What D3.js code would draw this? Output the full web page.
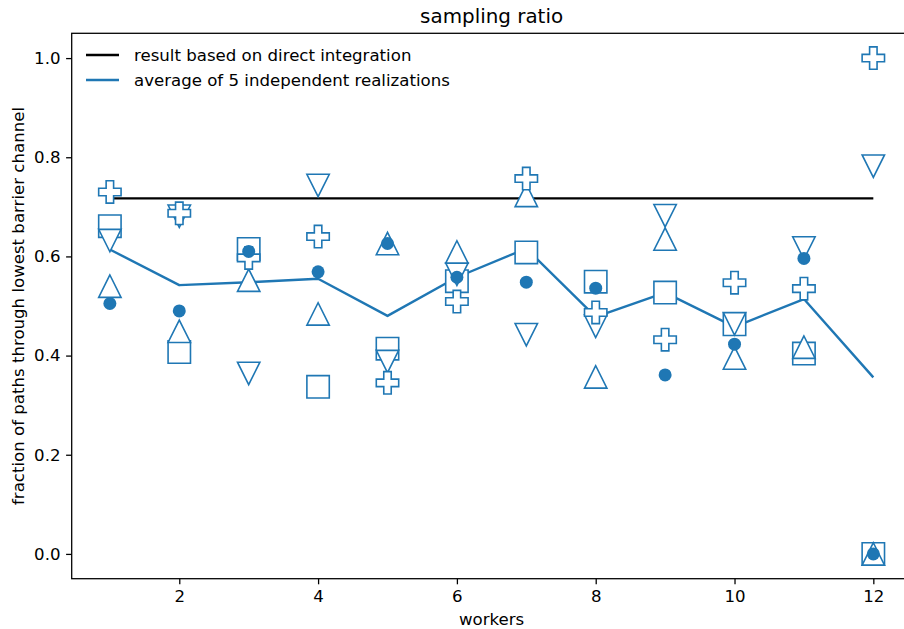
<!DOCTYPE html>
<html>
<head>
<meta charset="utf-8">
<script src="https://cdn.jsdelivr.net/npm/d3@7"></script>
<style>
  body { margin: 0; background: #fff; }
  svg { display: block; font-family: "DejaVu Sans", sans-serif; }
</style>
</head>
<body>
<svg id="svg" width="904" height="629"></svg>
<script>
// worker counts
var workers = [1, 2, 3, 4, 5, 6, 7, 8, 9, 10, 11, 12];

// five independent realizations (one marker style each)
var realSquare  = [0.661, 0.407, 0.615, 0.337, 0.414, 0.550, 0.608, 0.549, 0.527, 0.463, 0.404, 0.0];
var realTriDown = [0.632, 0.681, 0.364, 0.743, 0.388, 0.564, 0.442, 0.459, 0.682, 0.464, 0.617, 0.782];
var realTriUp   = [0.540, 0.449, 0.552, 0.484, 0.626, 0.609, 0.723, 0.357, 0.635, 0.395, 0.417, 0.0];
var realPlus    = [0.730, 0.687, 0.597, 0.640, 0.345, 0.509, 0.757, 0.487, 0.432, 0.547, 0.535, 1.0];
var realCircle  = [0.505, 0.490, 0.610, 0.569, 0.626, 0.558, 0.548, 0.536, 0.361, 0.423, 0.596, 0.0];

// average of the 5 realizations
var average = [0.614, 0.542, 0.548, 0.555, 0.480, 0.558, 0.616, 0.478, 0.527, 0.458, 0.514, 0.356];

// direct integration result
var directValue = 0.717;

var xTicks = [2, 4, 6, 8, 10, 12];
var yTicks = [0.0, 0.2, 0.4, 0.6, 0.8, 1.0];

var legendLabels = ["result based on direct integration", "average of 5 independent realizations"];

var blue = "#1f77b4";

// matplotlib style marker shapes (size = marker width in px)
var mplTriUp = { draw: function(ctx, s) { var h = s / 2; ctx.moveTo(0, -h); ctx.lineTo(-h, h); ctx.lineTo(h, h); ctx.closePath(); } };
var mplTriDown = { draw: function(ctx, s) { var h = s / 2; ctx.moveTo(0, h); ctx.lineTo(-h, -h); ctx.lineTo(h, -h); ctx.closePath(); } };
var mplSquare = { draw: function(ctx, s) { var h = s / 2; ctx.rect(-h, -h, s, s); } };
var mplPlus = { draw: function(ctx, s) {
  var a = s / 6, b = s / 2;
  ctx.moveTo(-a, -b); ctx.lineTo(a, -b); ctx.lineTo(a, -a); ctx.lineTo(b, -a); ctx.lineTo(b, a);
  ctx.lineTo(a, a); ctx.lineTo(a, b); ctx.lineTo(-a, b); ctx.lineTo(-a, a); ctx.lineTo(-b, a);
  ctx.lineTo(-b, -a); ctx.lineTo(-a, -a); ctx.closePath();
} };

var series = [
  { values: realSquare, type: mplSquare, size: 22.4, filled: false },
  { values: realTriDown, type: mplTriDown, size: 22.4, filled: false },
  { values: realTriUp, type: mplTriUp, size: 22.4, filled: false },
  { values: realPlus, type: mplPlus, size: 22.4, filled: false },
  { values: realCircle, type: d3.symbolCircle, size: Math.PI * 6.5 * 6.5, filled: true }
];

var svg = d3.select("#svg");
var mLeft = 71.7, mRight = 911.5, mTop = 33.3, mBottom = 578.7;

var x = d3.scaleLinear().domain([0.45, 12.55]).range([mLeft, mRight]);
var y = d3.scaleLinear().domain([-0.05, 1.05]).range([mBottom, mTop]);

// axes
var xAxis = svg.append("g")
  .attr("transform", "translate(0," + mBottom + ")")
  .call(d3.axisBottom(x).tickValues(xTicks).tickFormat(d3.format("d")).tickSize(5.6).tickPadding(5.6));
var yAxis = svg.append("g")
  .attr("transform", "translate(" + mLeft + ",0)")
  .call(d3.axisLeft(y).tickValues(yTicks).tickFormat(d3.format(".1f")).tickSize(5.6).tickPadding(5.6));
[xAxis, yAxis].forEach(function(ax) {
  ax.select(".domain").remove();
  ax.selectAll(".tick line").attr("stroke", "#000").attr("stroke-width", 1.28);
  ax.selectAll(".tick text").attr("fill", "#000").attr("font-size", 16.6).attr("font-family", "DejaVu Sans, sans-serif");
});

var plot = svg.append("g");

// direct integration line
plot.append("path")
  .attr("d", d3.line()([[x(workers[0]), y(directValue)], [x(workers[workers.length - 1]), y(directValue)]]))
  .attr("stroke", "#000")
  .attr("stroke-width", 2.4)
  .attr("fill", "none");

// average line
plot.append("path")
  .datum(average)
  .attr("d", d3.line().x(function(d, i) { return x(workers[i]); }).y(function(d) { return y(d); }))
  .attr("stroke", blue)
  .attr("stroke-width", 2.4)
  .attr("stroke-linejoin", "round")
  .attr("fill", "none");

// realization markers
series.forEach(function(s) {
  var sym = d3.symbol().type(s.type).size(s.size);
  plot.append("g").selectAll("path")
    .data(s.values)
    .join("path")
    .attr("transform", function(d, i) { return "translate(" + x(workers[i]) + "," + y(d) + ")"; })
    .attr("d", sym)
    .attr("fill", s.filled ? blue : "#fff")
    .attr("stroke", blue)
    .attr("stroke-width", s.filled ? 0 : 1.6);
});

// frame
svg.append("rect")
  .attr("x", mLeft).attr("y", mTop)
  .attr("width", mRight - mLeft).attr("height", mBottom - mTop)
  .attr("fill", "none").attr("stroke", "#000").attr("stroke-width", 1.28);

// title & labels
svg.append("text")
  .attr("x", (mLeft + mRight) / 2).attr("y", 23)
  .attr("text-anchor", "middle").attr("font-size", 19.9)
  .text("sampling ratio");
svg.append("text")
  .attr("x", (mLeft + mRight) / 2).attr("y", 625)
  .attr("text-anchor", "middle").attr("font-size", 16.6)
  .text("workers");
svg.append("text")
  .attr("transform", "translate(24," + ((mTop + mBottom) / 2) + ") rotate(-90)")
  .attr("text-anchor", "middle").attr("font-size", 16.6)
  .text("fraction of paths through lowest barrier channel");

// legend
var legend = svg.append("g");
var legendColors = ["#000", blue];
legendLabels.forEach(function(label, i) {
  var ly = 55 + i * 25;
  legend.append("line")
    .attr("x1", 86).attr("x2", 119).attr("y1", ly).attr("y2", ly)
    .attr("stroke", legendColors[i]).attr("stroke-width", 2.4);
  legend.append("text")
    .attr("x", 134).attr("y", ly).attr("dy", "0.35em")
    .attr("font-size", 16.6)
    .text(label);
});
</script>
</body>
</html>
